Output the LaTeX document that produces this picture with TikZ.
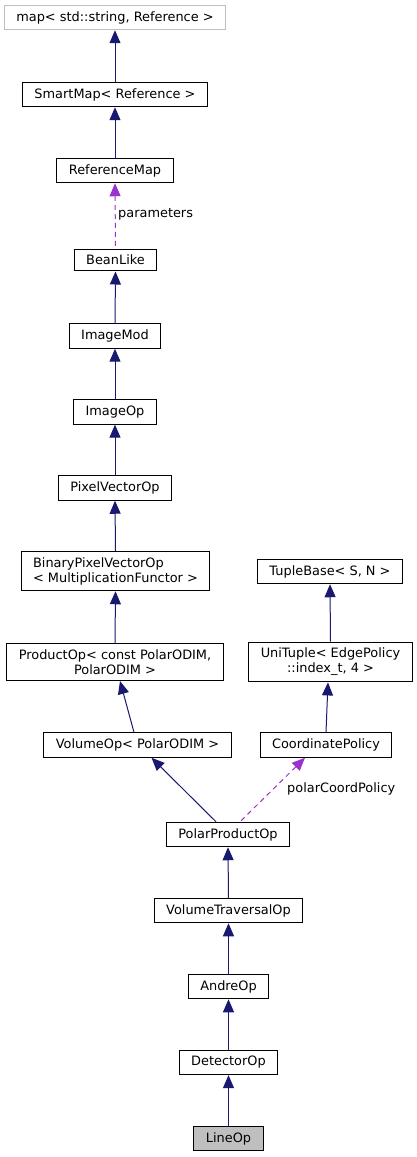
\documentclass[tikz,border=0pt]{standalone}
\usepackage{fontspec}
\setmainfont{DejaVu Sans}
\usetikzlibrary{arrows.meta}

\definecolor{edgeblue}{HTML}{191970}
\definecolor{usepurple}{HTML}{9A32CD}
\definecolor{boxgray}{HTML}{BFBFBF}

\tikzset{
  cls/.style={draw=black, line width=1pt, rectangle, inner xsep=12pt, inner ysep=6pt,
    font=\fontsize{12.9}{15}\selectfont, align=center},
  extcls/.style={cls, draw=boxgray},
  selcls/.style={cls, fill=boxgray},
  inherit/.style={<-, draw=edgeblue, line width=1pt},
  usage/.style={<-, draw=usepurple, line width=1pt, dash pattern=on 5pt off 4pt},
  elabel/.style={font=\fontsize{12.9}{15}\selectfont, anchor=west, inner sep=0pt}
}

\begin{document}
\begin{tikzpicture}[x=1pt, y=-1pt, >={Triangle[length=13pt,width=11pt]}]
  \useasboundingbox (0,0) rectangle (417,1157);

  \node[extcls] (map)        at (115,17.5)   {map< std::string, Reference >};
  \node[cls]    (smartmap)   at (115,94.5)   {SmartMap< Reference >};
  \node[cls]    (refmap)     at (115,170.5)  {ReferenceMap};
  \node[cls]    (beanlike)   at (115.5,260)  {BeanLike};
  \node[cls]    (imagemod)   at (115,336)    {ImageMod};
  \node[cls]    (imageop)    at (115,412)    {ImageOp};
  \node[cls]    (pixvec)     at (115,488)    {PixelVectorOp};
  \node[cls, align=left] (binpix) at (115.5,571) {BinaryPixelVectorOp\\< MultiplicationFunctor >};
  \node[cls]    (tuplebase)  at (330,571.5)  {TupleBase< S, N >};
  \node[cls]    (productop)  at (115,662)    {ProductOp< const PolarODIM,\\PolarODIM >};
  \node[cls]    (unituple)   at (330.5,662)  {UniTuple< EdgePolicy\\::index\_t, 4 >};
  \node[cls]    (volumeop)   at (137.5,745)  {VolumeOp< PolarODIM >};
  \node[cls]    (coordpol)   at (326,745)    {CoordinatePolicy};
  \node[cls]    (polarprod)  at (228,834.5)  {PolarProductOp};
  \node[cls]    (voltrav)    at (228.5,910.5) {VolumeTraversalOp};
  \node[cls]    (andreop)    at (228.5,986.5) {AndreOp};
  \node[cls]    (detectorop) at (228.5,1062.5) {DetectorOp};
  \node[selcls] (lineop)     at (228.5,1138.5) {LineOp};

  % inheritance
  \draw[inherit] (map.south) -- (smartmap.north);
  \draw[inherit] (smartmap.south) -- (refmap.north);
  \draw[inherit] (beanlike.south) -- (imagemod.north);
  \draw[inherit] (imagemod.south) -- (imageop.north);
  \draw[inherit] (imageop.south) -- (pixvec.north);
  \draw[inherit] (pixvec.south) -- (binpix.north);
  \draw[inherit] (binpix.south) -- (productop.north);
  \draw[inherit] ([xshift=5pt]productop.south) -- ([xshift=-3.5pt]volumeop.north);
  \draw[inherit] (tuplebase.south) -- (unituple.north);
  \draw[inherit] ([xshift=-2.5pt]unituple.south) -- (coordpol.north);
  \draw[inherit] ([xshift=14pt]volumeop.south) -- ([xshift=-12pt]polarprod.north);
  \draw[inherit] (polarprod.south) -- (voltrav.north);
  \draw[inherit] (voltrav.south) -- (andreop.north);
  \draw[inherit] (andreop.south) -- (detectorop.north);
  \draw[inherit] (detectorop.south) -- (lineop.north);

  % members
  \draw[usage] (refmap.south) -- (beanlike.north);
  \node[elabel] (lblparam) at (118,214) {parameters};
  \draw[usage] ([xshift=-21pt]coordpol.south) -- ([xshift=12pt]polarprod.north);
  \node[elabel] (lblpolar) at (287,789) {polarCoordPolicy};
\end{tikzpicture}
\end{document}
